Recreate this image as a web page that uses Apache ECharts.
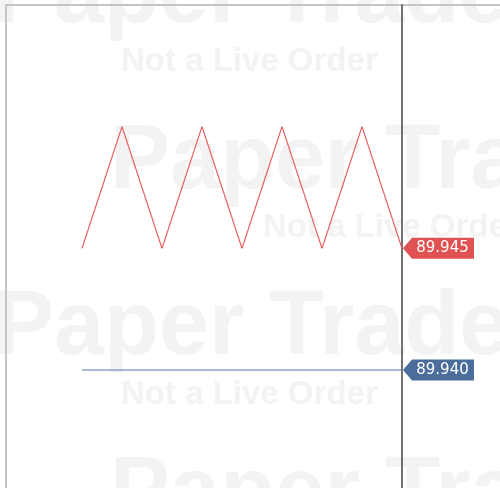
<!DOCTYPE html>
<html>
<head>
<meta charset="utf-8">
<script src="https://cdn.jsdelivr.net/npm/echarts@6/dist/echarts.min.js"></script>
<style>html,body{margin:0;padding:0;background:#fff;}#c{width:500px;height:488px;}</style>
</head>
<body>
<div id="c"></div>
<script>
// Data
const xIndex = [0, 1, 2, 3, 4, 5, 6, 7, 8];
const redValues = [89.945, 89.950, 89.945, 89.950, 89.945, 89.950, 89.945, 89.950, 89.945];
const blueValues = [89.940, 89.940, 89.940, 89.940, 89.940, 89.940, 89.940, 89.940, 89.940];
const watermarkBig = 'Paper Trade';
const watermarkSmall = 'Not a Live Order';

const chart = echarts.init(document.getElementById('c'), null, {renderer: 'canvas'});

const wmColor = '#f3f3f3';
const bigFont = 'bold 90px "Liberation Sans", Arial, sans-serif';
const smallFont = 'bold 33px "Liberation Sans", Arial, sans-serif';
function wm(text, x, y, font) {
  return {type: 'text', z: -10, silent: true, x: x, y: y,
    style: {text: text, font: font, fill: wmColor, align: 'left', verticalAlign: 'middle'}};
}

const tagPath = 'path://M0,10.5 L9,0 L71,0 L71,21 L9,21 Z';
function tag(values, color) {
  const last = values.length - 1;
  return {
    symbol: tagPath,
    symbolSize: [71, 21],
    symbolOffset: [36.5, 0],
    silent: true,
    itemStyle: {color: color},
    label: {show: true, color: '#fff', fontFamily: '"DejaVu Sans", sans-serif', fontSize: 15,
      position: 'inside', offset: [4, 0], overflow: 'none',
      formatter: function (p) { return Number(p.value).toFixed(3); }},
    data: [{coord: [xIndex[last], values[last]], value: values[last]}]
  };
}

chart.setOption({
  animation: false,
  backgroundColor: '#fff',
  grid: {left: 6, right: 98, top: 5, bottom: 0},
  xAxis: {type: 'value', min: -1.9, max: 8, show: false},
  yAxis: {type: 'value', position: 'right', min: 89.93515, max: 89.955,
    axisLine: {show: true, onZero: false, lineStyle: {color: '#444', width: 1.5}},
    axisTick: {show: false}, axisLabel: {show: false}, splitLine: {show: false}},
  graphic: [
    wm(watermarkBig, -6, -3, bigFont),
    wm(watermarkBig, 110, 163, bigFont),
    wm(watermarkBig, -6, 329, bigFont),
    wm(watermarkBig, 110, 495, bigFont),
    wm(watermarkSmall, 121, 62, smallFont),
    wm(watermarkSmall, 263, 228, smallFont),
    wm(watermarkSmall, 121, 395, smallFont),
    {type: 'line', z: -5, silent: true, shape: {x1: 5, y1: 5, x2: 500, y2: 5}, style: {stroke: '#c4c4c4', lineWidth: 2}},
    {type: 'line', z: -5, silent: true, shape: {x1: 6, y1: 5, x2: 6, y2: 488}, style: {stroke: '#c4c4c4', lineWidth: 2}}
  ],
  series: [
    {type: 'line', data: xIndex.map((x, i) => [x, redValues[i]]), symbol: 'none',
      lineStyle: {color: '#e65c5c', width: 1.2}, markPoint: tag(redValues, '#e05252')},
    {type: 'line', data: xIndex.map((x, i) => [x, blueValues[i]]), symbol: 'none',
      lineStyle: {color: '#5577a5', width: 1.2}, markPoint: tag(blueValues, '#4a6d9c')}
  ]
});
</script>
</body>
</html>
